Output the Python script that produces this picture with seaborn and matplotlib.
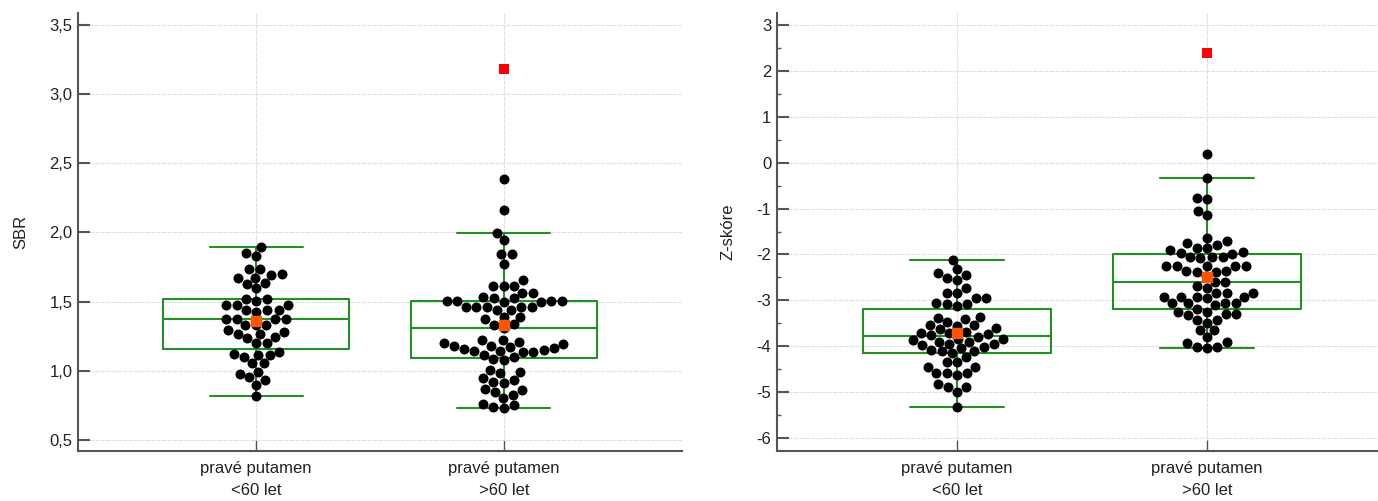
import matplotlib
matplotlib.use("Agg")
import matplotlib.pyplot as plt
import numpy as np
import pandas as pd
import seaborn as sns
from matplotlib.ticker import FuncFormatter, MultipleLocator

GROUPS = ["pravé putamen\n<60 let", "pravé putamen\n>60 let"]

sbr_under60 = [
    1.893, 1.854, 1.830, 1.734, 1.734, 1.700, 1.693, 1.669, 1.669, 1.633,
    1.628, 1.597, 1.520, 1.517, 1.507, 1.476, 1.476, 1.476, 1.440, 1.440,
    1.440, 1.428, 1.373, 1.373, 1.373, 1.373, 1.332, 1.332, 1.332, 1.295,
    1.283, 1.266, 1.266, 1.242, 1.235, 1.199, 1.199, 1.139, 1.122, 1.115,
    1.115, 1.098, 1.054, 1.054, 0.994, 0.977, 0.953, 0.934, 0.898, 0.820,
]
sbr_over60 = [
    3.180, 2.385, 2.163, 1.999, 1.946, 1.843, 1.843, 1.773, 1.657, 1.614,
    1.614, 1.614, 1.565, 1.565, 1.532, 1.524, 1.524, 1.507, 1.507, 1.507,
    1.507, 1.500, 1.500, 1.464, 1.464, 1.464, 1.464, 1.464, 1.440, 1.440,
    1.392, 1.387, 1.373, 1.335, 1.332, 1.310, 1.223, 1.223, 1.211, 1.199,
    1.194, 1.180, 1.180, 1.170, 1.163, 1.156, 1.151, 1.146, 1.146, 1.139,
    1.139, 1.115, 1.102, 1.083, 1.078, 1.006, 0.994, 0.982, 0.946, 0.934,
    0.922, 0.914, 0.866, 0.861, 0.849, 0.825, 0.801, 0.760, 0.753, 0.736,
    0.729,
]
z_under60 = [
    -2.121, -2.324, -2.411, -2.448, -2.520, -2.557, -2.738, -2.847, -2.847, -2.956,
    -2.956, -3.051, -3.080, -3.080, -3.123, -3.370, -3.390, -3.410, -3.470, -3.540,
    -3.540, -3.560, -3.600, -3.630, -3.680, -3.700, -3.720, -3.740, -3.760, -3.800,
    -3.830, -3.830, -3.860, -3.900, -3.900, -3.940, -3.940, -3.980, -4.010, -4.040,
    -4.080, -4.100, -4.110, -4.150, -4.230, -4.340, -4.340, -4.450, -4.450, -4.590,
    -4.590, -4.590, -4.630, -4.810, -4.880, -4.880, -4.990, -5.317,
]
z_over60 = [
    2.390, 0.182, -0.341, -0.777, -0.799, -1.046, -1.140, -1.649, -1.707, -1.758,
    -1.794, -1.867, -1.867, -1.903, -1.940, -1.961, -1.980, -2.063, -2.063, -2.063,
    -2.084, -2.252, -2.252, -2.252, -2.252, -2.252, -2.353, -2.353, -2.375, -2.375,
    -2.470, -2.593, -2.593, -2.688, -2.738, -2.833, -2.833, -2.847, -2.920, -2.920,
    -2.920, -2.920, -2.956, -3.065, -3.065, -3.065, -3.065, -3.102, -3.195, -3.247,
    -3.247, -3.298, -3.298, -3.320, -3.428, -3.428, -3.486, -3.646, -3.646, -3.806,
    -3.900, -3.937, -4.010, -4.010, -4.031,
]

BOX_GREEN = "#239023"
MEAN_ORANGE = "#ff5400"
AXIS_GRAY = "#555555"
TEXT_COLOR = "#222222"
FONT_SIZE = 12


def build_frame(under60, over60):
    frame = pd.DataFrame({
        "group": [GROUPS[0]] * len(under60) + [GROUPS[1]] * len(over60),
        "value": under60 + over60,
    })
    # far-out values (beyond 3 IQR) get their own marker, like MedCalc
    far = pd.Series(False, index=frame.index)
    for name, sub in frame.groupby("group"):
        q1, q3 = np.percentile(sub["value"], [25, 75])
        iqr = q3 - q1
        far[sub.index] = (sub["value"] > q3 + 3 * iqr) | (sub["value"] < q1 - 3 * iqr)
    frame["far"] = far
    return frame


def draw_panel(ax, frame, ylabel, ylim, major, minor, formatter):
    sns.boxplot(
        data=frame, x="group", y="value", order=GROUPS, width=0.75, whis=1.5,
        fill=False, color=BOX_GREEN, linecolor=BOX_GREEN, linewidth=1.5,
        showfliers=False, showmeans=True,
        meanprops=dict(marker="s", markerfacecolor=MEAN_ORANGE,
                       markeredgecolor=MEAN_ORANGE, markersize=6.5, zorder=5),
        ax=ax,
    )
    sns.swarmplot(
        data=frame[~frame["far"]], x="group", y="value", order=GROUPS,
        color="black", size=7.2, zorder=3, ax=ax,
    )
    sns.stripplot(
        data=frame[frame["far"]], x="group", y="value", order=GROUPS,
        jitter=False, marker="s", color="#ff0000", size=6.5, zorder=4, ax=ax,
    )

    ax.set_xlim(-0.72, 1.72)
    ax.set_ylim(*ylim)
    ax.yaxis.set_major_locator(MultipleLocator(major))
    if minor:
        ax.yaxis.set_minor_locator(MultipleLocator(minor))
    ax.yaxis.set_major_formatter(FuncFormatter(formatter))
    ax.set_xlabel("")
    ax.set_ylabel(ylabel, fontsize=FONT_SIZE, color=TEXT_COLOR, labelpad=15)
    ax.set_xticks(range(len(GROUPS)))
    ax.set_xticklabels(GROUPS, linespacing=1.6)

    ax.grid(True, color="#e0e0e0", linestyle=(0, (4, 1)), linewidth=0.8)
    ax.set_axisbelow(True)
    for side in ("top", "right"):
        ax.spines[side].set_visible(False)
    for side in ("left", "bottom"):
        ax.spines[side].set_color(AXIS_GRAY)
        ax.spines[side].set_linewidth(1.5)
    ax.tick_params(axis="y", which="major", left=True, direction="in", length=8.5,
                   width=1.5, color=AXIS_GRAY, labelcolor=TEXT_COLOR,
                   labelsize=FONT_SIZE, pad=4)
    ax.tick_params(axis="y", which="minor", left=True, direction="in", length=3,
                   width=1, color=AXIS_GRAY)
    ax.tick_params(axis="x", bottom=True, direction="in", length=8, width=1,
                   color=AXIS_GRAY, labelcolor=TEXT_COLOR, labelsize=FONT_SIZE, pad=7)


def main():
    sns.set_style("white")
    plt.rcParams["font.family"] = ["Liberation Sans", "DejaVu Sans"]

    fig = plt.figure(figsize=(13.78, 5.01), dpi=100)
    ax_sbr = fig.add_axes([78 / 1378, 50 / 501, 604 / 1378, 438 / 501])
    ax_z = fig.add_axes([777 / 1378, 50 / 501, 610 / 1378, 438 / 501])

    draw_panel(
        ax_sbr, build_frame(sbr_under60, sbr_over60), "SBR", (0.42, 3.587), 0.5, None,
        lambda v, _: f"{v:.1f}".replace(".", ","),
    )
    draw_panel(
        ax_z, build_frame(z_under60, z_over60), "Z-skóre", (-6.28, 3.26), 1, 0.5,
        lambda v, _: f"{v:.0f}",
    )

    fig.savefig("out.png", dpi=100)
    plt.close(fig)


if __name__ == "__main__":
    main()
